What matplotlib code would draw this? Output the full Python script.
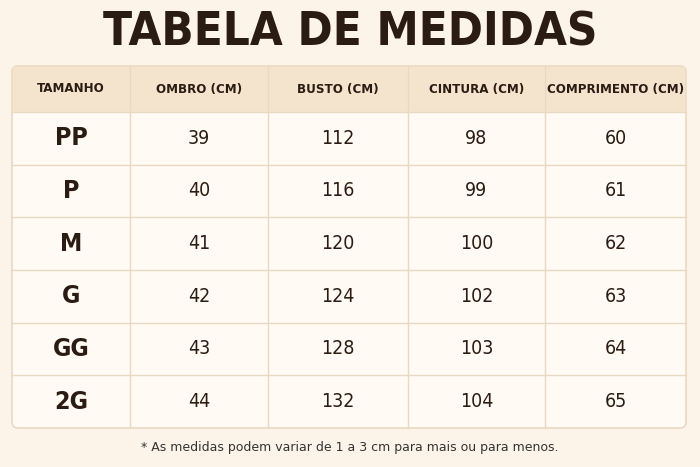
import matplotlib
matplotlib.use("Agg")
import matplotlib.pyplot as plt
from matplotlib.patches import FancyBboxPatch, Rectangle

# ---------------- Data ---------------- #
title = "TABELA DE MEDIDAS"
headers = ["TAMANHO", "OMBRO (CM)", "BUSTO (CM)", "CINTURA (CM)", "COMPRIMENTO (CM)"]
sizes = ["PP", "P", "M", "G", "GG", "2G"]
ombro = [39, 40, 41, 42, 43, 44]
busto = [112, 116, 120, 124, 128, 132]
cintura = [98, 99, 100, 102, 103, 104]
comprimento = [60, 61, 62, 63, 64, 65]
note = "* As medidas podem variar de 1 a 3 cm para mais ou para menos."

# ---------------- Layout ---------------- #
W, H = 700, 467
col_x = [12, 130, 268, 408, 545, 686]
top, head_bot, bot = 66, 112, 428
row_h = (bot - head_bot) / len(sizes)
dark = "#2a1c13"
line_c = "#ead9c2"

fig = plt.figure(figsize=(7, 4.67), dpi=100, facecolor="#fcf4e9")
ax = fig.add_axes([0, 0, 1, 1])
ax.set_xlim(0, W)
ax.set_ylim(H, 0)
ax.axis("off")

txt = dict(family="DejaVu Sans", fontstretch="condensed", color=dark,
           ha="center", va="center")

ax.text(W / 2, 33, title, fontsize=34, fontweight="bold", **txt)

# table body
ax.add_patch(FancyBboxPatch((col_x[0], top), col_x[-1] - col_x[0], bot - top,
                            boxstyle="round,pad=0,rounding_size=6",
                            fc="#fffaf4", ec=line_c, lw=1.2, zorder=1))
ax.add_patch(Rectangle((col_x[0] + 1, top + 1), col_x[-1] - col_x[0] - 2,
                       head_bot - top - 1, fc="#f4e4ce", ec="none", zorder=1))

for x in col_x[1:-1]:
    ax.plot([x, x], [top, bot], color=line_c, lw=1, zorder=2)
for i in range(len(sizes)):
    y = head_bot + i * row_h
    ax.plot([col_x[0], col_x[-1]], [y, y], color=line_c, lw=1, zorder=2)

centers = [(col_x[i] + col_x[i + 1]) / 2 for i in range(5)]
for c, h in zip(centers, headers):
    ax.text(c, (top + head_bot) / 2, h, fontsize=9.5, fontweight="bold", **txt)

for i, s in enumerate(sizes):
    y = head_bot + (i + 0.5) * row_h
    ax.text(centers[0], y, s, fontsize=18, fontweight="bold", **txt)
    for c, v in zip(centers[1:], [ombro[i], busto[i], cintura[i], comprimento[i]]):
        ax.text(c, y, str(v), fontsize=14, **txt)

ax.text(W / 2, 447, note, fontsize=9, family="DejaVu Sans", color="#333333",
        ha="center", va="center")

fig.savefig("out.png", dpi=100, facecolor=fig.get_facecolor())
